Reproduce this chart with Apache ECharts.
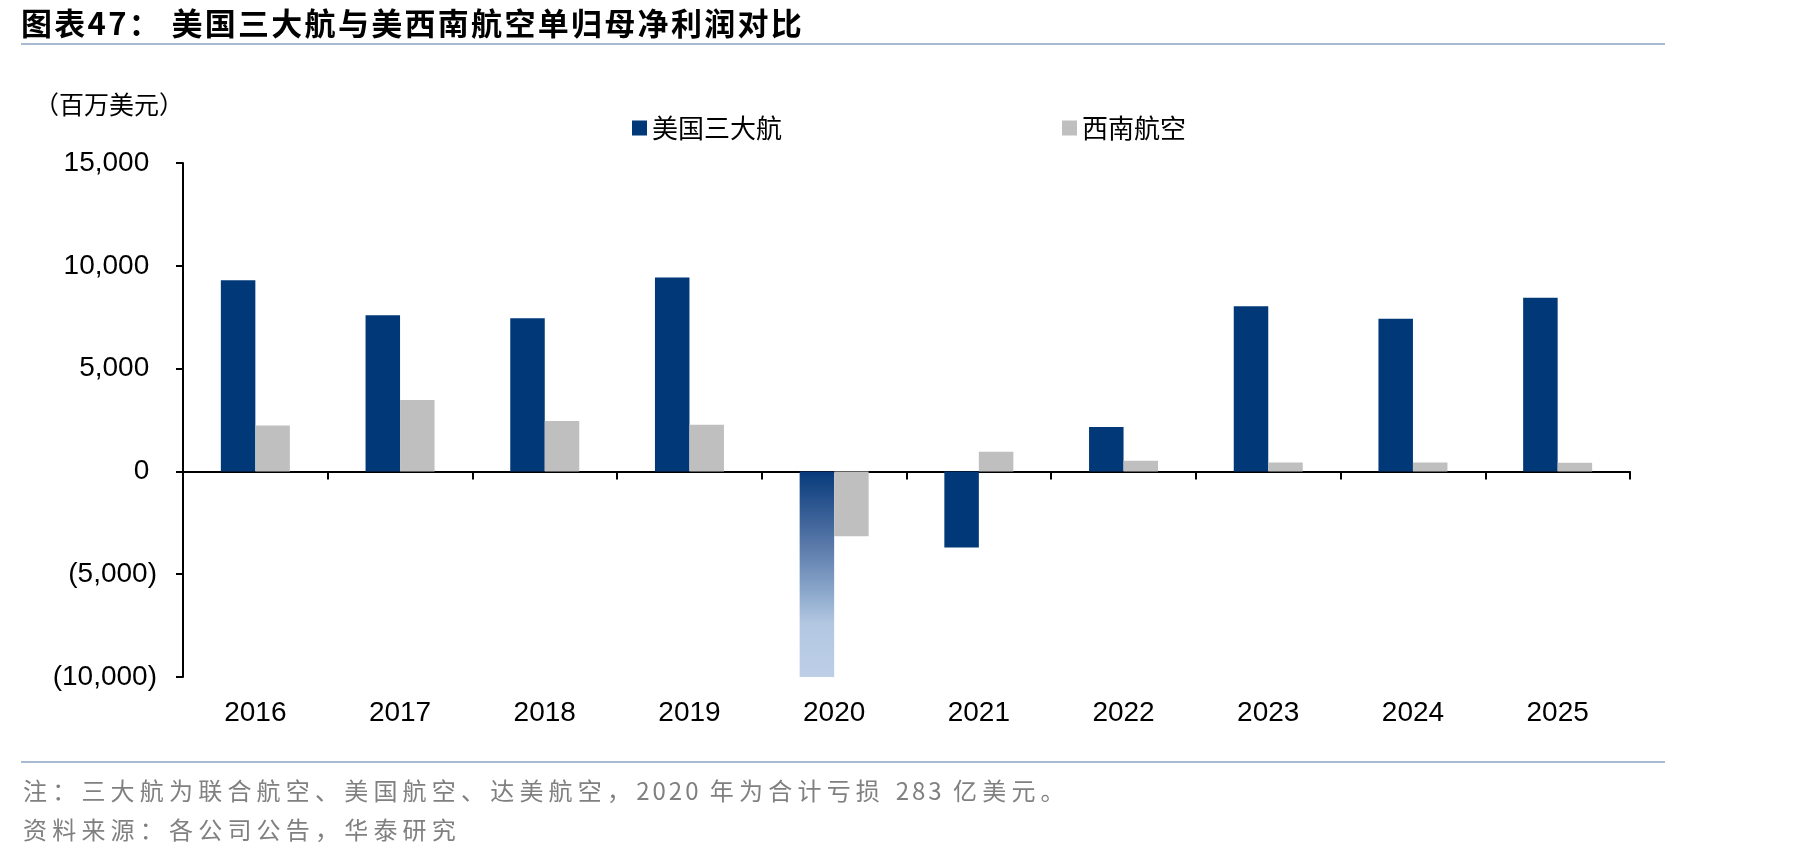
<!DOCTYPE html>
<html>
<head>
<meta charset="utf-8">
<title>美国三大航与美西南航空单归母净利润对比</title>
<script src="https://cdn.jsdelivr.net/npm/echarts@6/dist/echarts.min.js"></script>
<style>
  html, body { margin: 0; padding: 0; background: #fff; }
  #wrap { position: relative; width: 1819px; height: 858px; overflow: hidden; }
  #chart { position: absolute; left: 0; top: 0; width: 1819px; height: 858px; }
  .txt { position: absolute; white-space: nowrap; font-family: "Noto Sans CJK SC", sans-serif; line-height: 1; }
  .rule { position: absolute; left: 21px; width: 1644px; height: 2px; background: #a9bbd3; }
  .note { font-size: 24px; letter-spacing: 5.2px; color: #808080; }
  .num { letter-spacing: 3px; }
</style>
</head>
<body>
<div id="wrap">
  <div id="chart"></div>
  <div class="txt" id="title" style="left:21px; top:6px; font-size:31px; font-weight:bold; letter-spacing:2.3px; color:#000;">图表47： 美国三大航与美西南航空单归母净利润对比</div>
  <div class="rule" style="top:43px;"></div>
  <div class="rule" style="top:761px;"></div>
  <div class="txt note" style="left:23px; top:778px;">注：三大航为联合航空、美国航空、达美航空，<span class="num">2020 </span>年为合计亏损 <span class="num">283 </span>亿美元。</div>
  <div class="txt note" style="left:23px; top:817px;">资料来源：各公司公告，华泰研究</div>
</div>
<script>
// 数据（百万美元）
var years = ['2016', '2017', '2018', '2019', '2020', '2021', '2022', '2023', '2024', '2025'];
var big3 = [9300, 7600, 7450, 9430, -28300, -3700, 2160, 8030, 7430, 8450];
var southwest = [2230, 3470, 2450, 2270, -3150, 950, 520, 430, 430, 420];
var yTicks = [-10000, -5000, 0, 5000, 10000, 15000];

var BLUE = '#003878';
var GREY = '#bfbfbf';

// 2020年亏损超出坐标轴，用渐变表示截断
var big3Data = big3.map(function (v, i) {
    if (v < yTicks[0]) {
        return {
            value: v,
            itemStyle: {
                color: new echarts.graphic.LinearGradient(0, 0, 0, 1, [
                    { offset: 0, color: '#073a7b' },
                    { offset: 0.35, color: '#5777a8' },
                    { offset: 0.6, color: '#8eaacd' },
                    { offset: 0.74, color: '#b3c7e2' },
                    { offset: 1, color: '#bdcfe7' }
                ])
            }
        };
    }
    return v;
});

function fmt(v) {
    var s = Math.abs(v).toString().replace(/\B(?=(\d{3})+(?!\d))/g, ',');
    return v < 0 ? '(' + s + ')' : s + ' ';
}

var chart = echarts.init(document.getElementById('chart'));
chart.setOption({
    animation: false,
    graphic: [{
        type: 'text',
        left: 34,
        top: 92,
        style: {
            text: '（百万美元）',
            font: '25px "Noto Sans CJK SC"',
            fill: '#000'
        }
    }],
    legend: {
        left: 632,
        top: 115,
        padding: 0,
        itemWidth: 15,
        itemHeight: 15,
        itemGap: 280,
        icon: 'rect',
        textStyle: {
            fontFamily: 'Noto Sans CJK SC',
            fontSize: 26,
            color: '#000'
        },
        data: ['美国三大航', '西南航空']
    },
    grid: {
        left: 183,
        right: 189,
        top: 163,
        bottom: 181,
        containLabel: false
    },
    xAxis: [{
        type: 'category',
        data: years,
        position: 'bottom',
        axisLine: { show: false, onZero: false },
        axisTick: { show: false },
        axisLabel: {
            margin: 22,
            fontFamily: 'Liberation Sans',
            fontSize: 28,
            color: '#000'
        }
    }, {
        type: 'category',
        data: years,
        position: 'bottom',
        axisLine: { onZero: true, lineStyle: { color: '#000', width: 2 } },
        axisTick: { show: true, length: 8, lineStyle: { color: '#000', width: 2 } },
        axisLabel: { show: false }
    }],
    yAxis: {
        type: 'value',
        min: yTicks[0],
        max: yTicks[yTicks.length - 1],
        interval: 5000,
        splitLine: { show: false },
        axisLine: { show: true, lineStyle: { color: '#000', width: 2 } },
        axisTick: { show: true, length: 7, lineStyle: { color: '#000', width: 2 } },
        axisLabel: {
            margin: 26,
            fontFamily: 'Liberation Sans',
            fontSize: 28,
            color: '#000',
            formatter: fmt
        }
    },
    series: [{
        name: '美国三大航',
        type: 'bar',
        xAxisIndex: 0,
        barWidth: 34.5,
        barGap: '0%',
        clip: true,
        itemStyle: { color: BLUE },
        data: big3Data
    }, {
        name: '西南航空',
        type: 'bar',
        xAxisIndex: 0,
        barWidth: 34.5,
        barGap: '0%',
        clip: true,
        itemStyle: { color: GREY },
        data: southwest
    }]
});
</script>
</body>
</html>
